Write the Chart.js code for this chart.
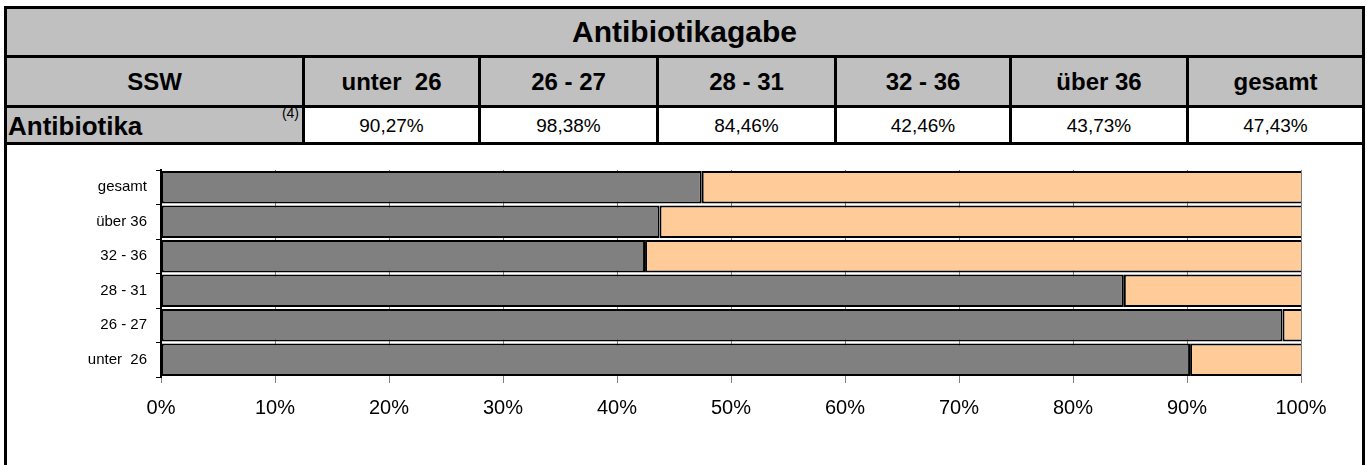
<!DOCTYPE html>
<html>
<head>
<meta charset="utf-8">
<script src="https://cdn.jsdelivr.net/npm/chart.js@4.4.1/dist/chart.umd.min.js"></script>
<style>
  html, body { margin:0; padding:0; background:#fff; }
  body { width:1367px; height:465px; position:relative; overflow:hidden; font-family:"Liberation Sans", Arial, sans-serif; }
  #tbl { position:absolute; left:4px; top:6px; width:1361px; height:139px; background:#000; }
  .cell { position:absolute; display:flex; align-items:center; justify-content:center; color:#000; white-space:pre; }
  .gray { background:#C0C0C0; }
  .white { background:#fff; }
  .title { font-weight:bold; font-size:30px; }
  .hdr { font-weight:bold; font-size:24px; }
  .rowh { font-weight:bold; font-size:26px; justify-content:flex-start; padding-left:1px; box-sizing:border-box; padding-top:2px; }
  .val { font-size:19px; padding-top:1px; box-sizing:border-box; }
  .sup { position:absolute; right:3px; top:-3px; font-size:14px; font-weight:normal; }
  .vline { position:absolute; background:#000; width:3px; top:6px; height:459px; z-index:5; }
  #chartWrap { position:absolute; left:0; top:145px; width:1367px; height:320px; }
</style>
</head>
<body>
<div id="tbl"></div>
<div class="vline" style="left:4px"></div>
<div class="vline" style="left:1362px"></div>
<div id="chartWrap"><canvas id="c" width="1367" height="320"></canvas></div>
<script>
// ---- data ----
const chartTitle = 'Antibiotikagabe';
const rowHeader = 'SSW';
const rowName = 'Antibiotika';
const rowNote = '(4)';
const categories = ['unter  26', '26 - 27', '28 - 31', '32 - 36', 'über 36', 'gesamt'];
const antibiotika = [90.27, 98.38, 84.46, 42.46, 43.73, 47.43];
const ohneAntibiotika = [9.73, 1.62, 15.54, 57.54, 56.27, 52.57];
const xTickValues = [0, 10, 20, 30, 40, 50, 60, 70, 80, 90, 100];

// ---- table (layout) ----
const colX = [[3,298],[301,474],[477,652],[655,830],[833,1005],[1008,1182],[1185,1358]];
const rowY = { title:[3,49], hdr:[52,99], data:[102,136] };
const tbl = document.getElementById('tbl');
function addCell(x0, x1, y0, y1, cls, text) {
  const d = document.createElement('div');
  d.className = 'cell ' + cls;
  d.style.left = x0 + 'px'; d.style.width = (x1 - x0) + 'px';
  d.style.top = y0 + 'px'; d.style.height = (y1 - y0) + 'px';
  d.textContent = text;
  tbl.appendChild(d);
  return d;
}
addCell(colX[0][0], colX[6][1], rowY.title[0], rowY.title[1], 'gray title', chartTitle);
addCell(colX[0][0], colX[0][1], rowY.hdr[0], rowY.hdr[1], 'gray hdr', rowHeader);
categories.forEach((c, i) => addCell(colX[i+1][0], colX[i+1][1], rowY.hdr[0], rowY.hdr[1], 'gray hdr', c));
const rh = addCell(colX[0][0], colX[0][1], rowY.data[0], rowY.data[1], 'gray rowh', rowName);
const sup = document.createElement('span'); sup.className = 'sup'; sup.textContent = rowNote; rh.appendChild(sup);
antibiotika.forEach((v, i) => addCell(colX[i+1][0], colX[i+1][1], rowY.data[0], rowY.data[1], 'white val',
  v.toFixed(2).replace('.', ',') + '%'));

// ---- chart ----
const FONT = '"Liberation Sans", Arial, sans-serif';
new Chart(document.getElementById('c'), {
  type: 'bar',
  data: {
    labels: categories,
    datasets: [
      { label: rowName, data: antibiotika, backgroundColor: '#808080', borderColor: '#000', borderWidth: 2,
        borderSkipped: false, barPercentage: 0.94, categoryPercentage: 1.0 },
      { label: 'ohne', data: ohneAntibiotika, backgroundColor: '#FFCC99', borderColor: '#000', borderWidth: 2,
        borderSkipped: 'end', barPercentage: 0.94, categoryPercentage: 1.0 }
    ]
  },
  options: {
    indexAxis: 'y',
    responsive: false,
    animation: false,
    devicePixelRatio: 1,
    layout: { padding: { top: 25, left: 0, right: 66, bottom: 0 } },
    plugins: { legend: { display: false }, tooltip: { enabled: false } },
    scales: {
      x: {
        stacked: true, min: 0, max: 100,
        afterBuildTicks: s => { s.ticks = xTickValues.map(v => ({ value: v })); },
        afterFit: s => { s.height = 88; },
        grid: { color: '#808080', lineWidth: 1, drawTicks: true, tickLength: 6, tickColor: '#808080' },
        border: { display: false },
        ticks: { color: '#000', font: { family: FONT, size: 20 }, padding: 13, maxRotation: 0,
          callback: v => v + '%' }
      },
      y: {
        stacked: true, reverse: true,
        afterFit: s => { s.width = 161; },
        grid: { display: true, drawOnChartArea: false, offset: true, tickLength: 5, color: '#000', tickColor: '#000' },
        border: { display: true, color: '#000', width: 2 },
        ticks: { color: '#000', font: { family: FONT, size: 15 }, padding: 9 }
      }
    }
  }
});
</script>
</body>
</html>
